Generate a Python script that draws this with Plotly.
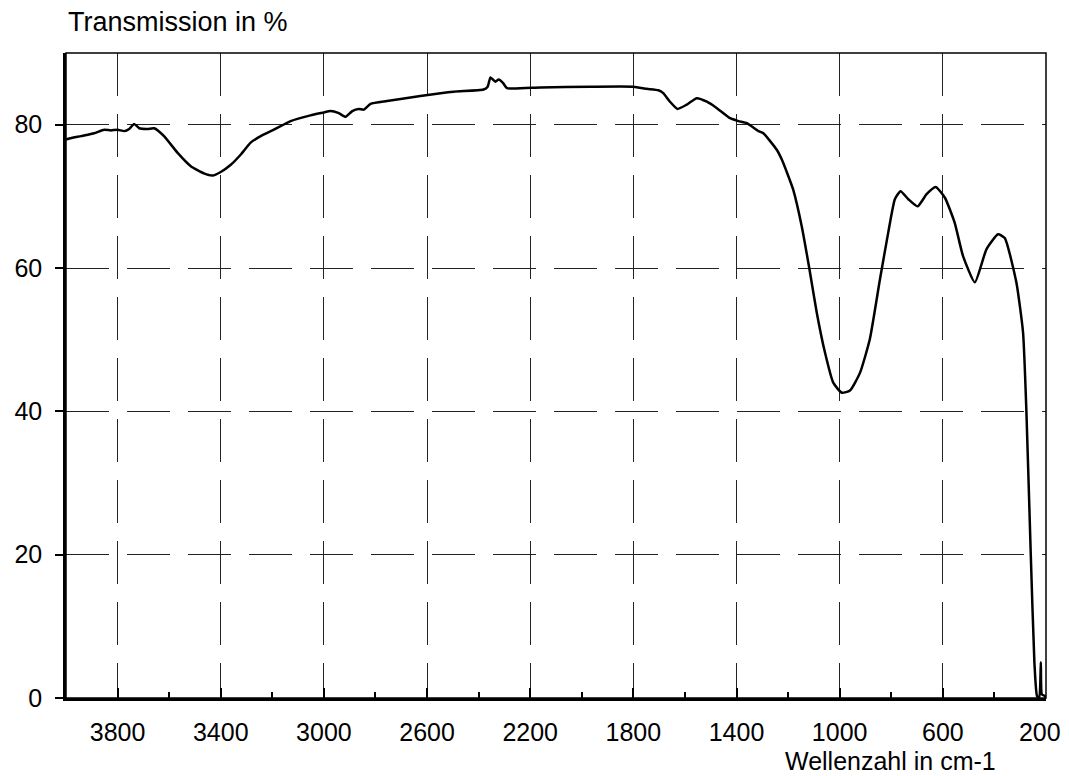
import plotly.graph_objects as go

wavenumber = [4000, 3994, 3942, 3891, 3852, 3826, 3800, 3774, 3755, 3736, 3716, 3684, 3658,
              3620, 3568, 3516, 3465, 3432, 3400, 3361, 3323, 3284, 3240, 3194, 3129, 3052,
              3000, 2974, 2942, 2916, 2890, 2865, 2845, 2819, 2755, 2626, 2497, 2381, 2365,
              2354, 2335, 2322, 2305, 2290, 2160, 1967, 1800, 1748, 1703, 1684, 1658, 1629,
              1593, 1554, 1515, 1476, 1425, 1393, 1360, 1315, 1296, 1244, 1224, 1199, 1180,
              1147, 1118, 1089, 1057, 1025, 992, 960, 921, 883, 844, 812, 786, 764, 734, 698,
              663, 628, 592, 554, 522, 476, 431, 386, 360, 315, 289, 276, 259, 245, 235, 226,
              220, 216, 205, 200]
transmission = [77.9, 78.0, 78.4, 78.8, 79.3, 79.2, 79.3, 79.1, 79.4, 80.1, 79.5, 79.4, 79.5,
                78.4, 76.1, 74.2, 73.2, 72.9, 73.4, 74.4, 75.8, 77.5, 78.5, 79.3, 80.5, 81.3,
                81.7, 81.9, 81.6, 81.1, 81.9, 82.2, 82.1, 82.9, 83.3, 84.0, 84.6, 84.9, 85.3,
                86.6, 86.0, 86.3, 85.8, 85.1, 85.2, 85.3, 85.3, 85.0, 84.8, 84.4, 83.2, 82.2,
                82.8, 83.7, 83.2, 82.3, 80.9, 80.5, 80.2, 79.1, 78.8, 76.5, 75.1, 72.8, 70.9,
                65.8, 60.0, 53.8, 48.2, 44.0, 42.6, 42.9, 45.4, 50.1, 58.4, 64.9, 69.6, 70.7, 69.6, 68.6,
                70.3, 71.3, 69.8, 66.3, 61.7, 58.0, 62.6, 64.7, 64.2, 58.0, 51.0, 40.0, 20.0, 5.0, 0.3, 0.0,
                5.0, 0.5, 0.3, 0.0]

x_ticks = [3800, 3400, 3000, 2600, 2200, 1800, 1400, 1000, 600, 200]
x_minor = [3600, 3200, 2800, 2400, 2000, 1600, 1200, 800, 400]
y_ticks = [0, 20, 40, 60, 80]
y_title = "Transmission in %"
x_title = "Wellenzahl in cm-1"

FONT = "Liberation Sans, Arial, sans-serif"

# last label sits at the frame edge; pad it on the right so its glyphs stay inside the page
x_ticktext = [str(v) for v in x_ticks]
x_ticktext[-1] = x_ticktext[-1] + "\u2002"

fig = go.Figure()
fig.add_trace(go.Scatter(
    x=wavenumber, y=transmission, mode="lines",
    line=dict(color="black", width=2.5, shape="spline", smoothing=0.5),
    showlegend=False, hoverinfo="x+y"))

# The page body has an 8px default margin, so the figure is 8px smaller
# and the left/top margins 8px smaller to land on the reference pixels.
fig.update_layout(
    width=1061, height=768,
    margin=dict(l=58, r=23, t=45, b=78, autoexpand=False),
    paper_bgcolor="white", plot_bgcolor="white",
    font=dict(family=FONT, size=25, color="black"),
    xaxis=dict(
        range=[4000, 200], tickvals=x_ticks, ticktext=x_ticktext,
        ticks="inside", ticklen=10, tickwidth=1.5, tickcolor="black",
        minor=dict(ticks="inside", ticklen=6, tickwidth=1.5, tickcolor="black",
                   tickvals=x_minor),
        showgrid=True, gridcolor="#222", gridwidth=1, griddash="43px,18px",
        showline=True, linecolor="black", linewidth=2.5,
        zeroline=False, ticklabelstandoff=10, automargin=False,
        ticklabeloverflow="allow",
        tickfont=dict(family=FONT, size=25, color="black"),
    ),
    yaxis=dict(
        range=[0, 90], tickvals=y_ticks, ticktext=[str(v) for v in y_ticks],
        ticks="outside", ticklen=8, tickwidth=1.5, tickcolor="black",
        showgrid=True, gridcolor="#222", gridwidth=1, griddash="43px,18px",
        showline=True, linecolor="black", linewidth=2.5,
        zeroline=False, ticklabelstandoff=8, automargin=False,
        tickfont=dict(family=FONT, size=25, color="black"),
    ),
    shapes=[dict(type="rect", xref="paper", yref="paper", x0=0, x1=1, y0=0, y1=1,
                 line=dict(color="black", width=1.5), layer="above")],
    annotations=[
        dict(text=y_title, xref="paper", yref="paper", x=0, y=1.048,
             xanchor="left", yanchor="middle", showarrow=False,
             font=dict(family=FONT, size=27, color="black")),
        dict(text=x_title, xref="paper", yref="paper", x=0.951, y=-0.097,
             xanchor="right", yanchor="middle", showarrow=False,
             font=dict(family=FONT, size=25, color="black")),
    ],
)

fig.write_html("out.html")
